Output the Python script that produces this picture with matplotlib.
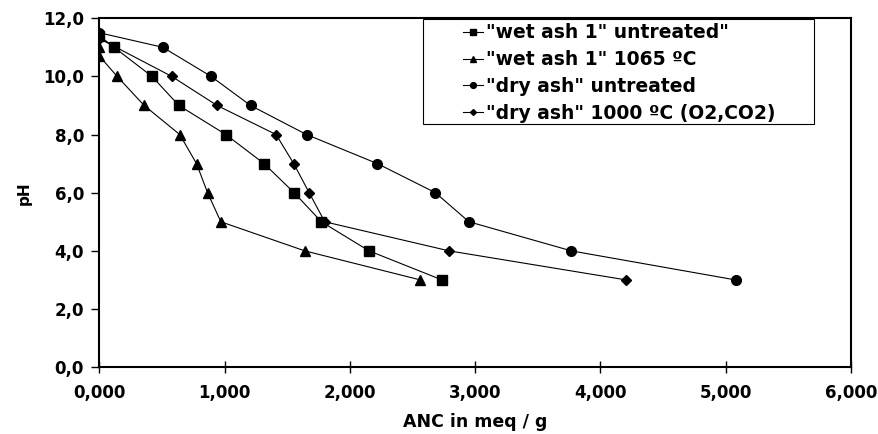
import matplotlib
matplotlib.use("Agg")
import matplotlib.pyplot as plt
from matplotlib.patches import Rectangle
from matplotlib.ticker import FuncFormatter

plt.rcParams['font.family'] = ['DejaVu Sans']
plt.rcParams['font.weight'] = 'bold'

labels = ['"wet ash 1" untreated"', '"wet ash 1" 1065 ºC',
          '"dry ash" untreated', '"dry ash" 1000 ºC (O2,CO2)']

wet_untr_x = [0.0, 0.118, 0.42, 0.635, 1.01, 1.315, 1.555, 1.773, 2.153, 2.736]
wet_untr_y = [11.4, 11.0, 10.0, 9.0, 8.0, 7.0, 6.0, 5.0, 4.0, 3.0]

wet_1065_x = [0.0, 0.0, 0.142, 0.358, 0.642, 0.776, 0.864, 0.97, 1.64, 2.563]
wet_1065_y = [11.0, 10.7, 10.0, 9.0, 8.0, 7.0, 6.0, 5.0, 4.0, 3.0]

dry_untr_x = [0.0, 0.507, 0.892, 1.207, 1.654, 2.22, 2.683, 2.951, 3.768, 5.08]
dry_untr_y = [11.5, 11.0, 10.0, 9.0, 8.0, 7.0, 6.0, 5.0, 4.0, 3.0]

dry_1000_x = [0.0, 0.578, 0.94, 1.411, 1.552, 1.675, 1.80, 2.792, 4.207]
dry_1000_y = [11.3, 10.0, 9.0, 8.0, 7.0, 6.0, 5.0, 4.0, 3.0]

fig = plt.figure(figsize=(8.79, 4.34), dpi=100)
ax = fig.add_axes([0.113, 0.154, 0.855, 0.804])

ax.plot(wet_untr_x, wet_untr_y, color='black', lw=0.8, marker='s', ms=7, label=labels[0])
ax.plot(wet_1065_x, wet_1065_y, color='black', lw=0.8, marker='^', ms=7, label=labels[1])
ax.plot(dry_untr_x, dry_untr_y, color='black', lw=0.8, marker='o', ms=7, label=labels[2])
ax.plot(dry_1000_x, dry_1000_y, color='black', lw=0.8, marker='D', ms=5, label=labels[3])

ax.set_xlim(0, 6)
ax.set_ylim(0, 12)
ax.set_xticks([0, 1, 2, 3, 4, 5, 6])
ax.set_yticks([0, 2, 4, 6, 8, 10, 12])
ax.xaxis.set_major_formatter(FuncFormatter(lambda v, p: f"{v:.3f}".replace('.', ',')))
ax.yaxis.set_major_formatter(FuncFormatter(lambda v, p: f"{v:.1f}".replace('.', ',')))
ax.tick_params(axis='x', direction='inout', length=8, width=1, labelsize=12, pad=8)
ax.tick_params(axis='y', direction='out', length=6, width=1, labelsize=12, pad=5)
for lab in ax.get_xticklabels() + ax.get_yticklabels():
    lab.set_fontweight('bold')
for s in ax.spines.values():
    s.set_linewidth(1.5)
    s.set_color('black')

ax.set_xlabel('ANC in meq / g', fontsize=12.5, fontweight='bold', labelpad=8)
ax.set_ylabel('pH', fontsize=11, fontweight='bold', labelpad=8)

# legend frame (wide horizontal padding as in the original)
ax.add_patch(Rectangle((0.431, 0.696), 0.520, 0.301, transform=ax.transAxes,
                       fill=True, facecolor='white', edgecolor='black', lw=0.8, zorder=4))
leg = ax.legend(loc='upper left', bbox_to_anchor=(0.484, 0.985), frameon=False,
                prop={'weight': 'bold', 'size': 13.5},
                handlelength=1.07, handletextpad=0.15, labelspacing=0.41, borderpad=0,
                markerscale=0.6, borderaxespad=0)
leg.set_zorder(5)

fig.savefig('out.png', dpi=100)
